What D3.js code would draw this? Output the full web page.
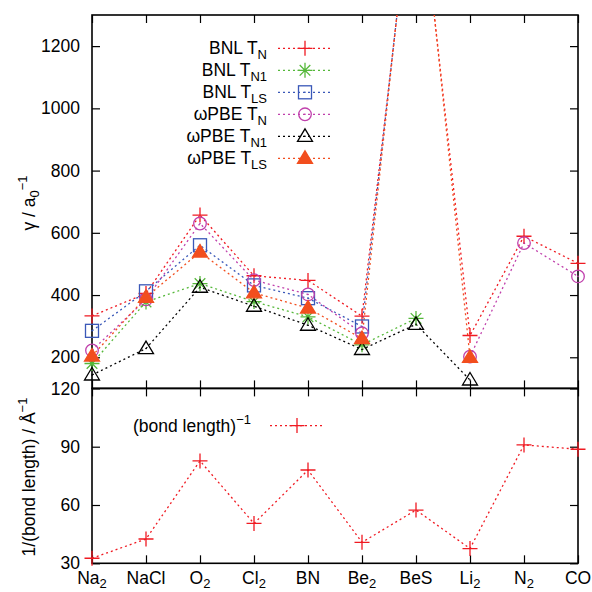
<!DOCTYPE html>
<html>
<head>
<meta charset="utf-8">
<script src="https://cdn.jsdelivr.net/npm/d3@7"></script>
<style>
  html, body { margin: 0; padding: 0; background: #fff; }
  svg text { font-family: "Liberation Sans", Arial, Helvetica, sans-serif; fill: #000; }
</style>
</head>
<body>
<svg id="chart" width="592" height="592"></svg>
<script>
// Molecules along the x axis: [name, subscript]
const categories = ["Na2", "NaCl", "O2", "Cl2", "BN", "Be2", "BeS", "Li2", "N2", "CO"];
const categoryLabels = [["Na", "2"], ["NaCl", ""], ["O", "2"], ["Cl", "2"], ["BN", ""],
                        ["Be", "2"], ["BeS", ""], ["Li", "2"], ["N", "2"], ["CO", ""]];

// Optimal range-separation parameter gamma (1/a0) for each tuning scheme
const bnlTN   = [333, 405, 657, 462, 447, 332, 1825, 270, 589, 502];
const bnlTN1  = [180, 378, 437, 379, 330, 240, 325, null, null, null];
const bnlTLS  = [285, 412, 560, 431, 390, 299, 1845, null, null, null];
const wpbeTN  = [222, 386, 630, 448, 402, 277, null, 202, 567, 460];
const wpbeTN1 = [143, 228, 425, 364, 303, 225, 306, 127, null, null];
const wpbeTLS = [204, 393, 538, 407, 358, 260, 1865, 200, null, null];

// Inverse bond length (x100, 1/Angstrom)
const invBondLength = [32.6, 42.5, 82.7, 50.5, 78.0, 40.8, 57.4, 37.6, 90.9, 88.7];

// Axis ticks
const topTicks = [200, 400, 600, 800, 1000, 1200];
const bottomTicks = [30, 60, 90, 120];

const series = [
  { name: ["BNL T", "N"],    values: bnlTN,   color: "#f01a22", symbol: "plus" },
  { name: ["BNL T", "N1"],   values: bnlTN1,  color: "#55b83a", symbol: "star" },
  { name: ["BNL T", "LS"],   values: bnlTLS,  color: "#3a58b8", symbol: "square" },
  { name: ["ωPBE T", "N"],   values: wpbeTN,  color: "#c040ac", symbol: "circle" },
  { name: ["ωPBE T", "N1"],  values: wpbeTN1, color: "#000000", symbol: "triangle" },
  { name: ["ωPBE T", "LS"],  values: wpbeTLS, color: "#f24e1e", symbol: "triangleFilled" }
];

const svg = d3.select("#chart");
const padL = 92, padR = 578, panelTop = 15, panelMid = 388.4, panelBot = 563.3;
const fontSize = 17.5, subSize = 13;

const x = d3.scalePoint().domain(categories).range([padL, padR]).padding(0);
const yTop = d3.scaleLinear().domain([100, 1300]).range([panelMid, panelTop]);
const yBot = d3.scaleLinear().domain([30, 120]).range([panelBot, panelMid]);

// Point symbols drawn as paths centred on (0,0)
function drawSymbol(g, type, color) {
  const sw = 1.3;
  if (type === "plus") {
    g.append("path").attr("d", "M-7.5,0H7.5M0,-7.5V7.5")
      .attr("stroke", color).attr("stroke-width", sw).attr("fill", "none");
  } else if (type === "star") {
    g.append("path").attr("d", "M-7.5,0H7.5M0,-7.5V7.5M-5.3,-5.3L5.3,5.3M-5.3,5.3L5.3,-5.3")
      .attr("stroke", color).attr("stroke-width", sw).attr("fill", "none");
  } else if (type === "square") {
    g.append("rect").attr("x", -6.5).attr("y", -6.5).attr("width", 13).attr("height", 13)
      .attr("stroke", color).attr("stroke-width", sw).attr("fill", "none");
    g.append("circle").attr("r", 0.8).attr("fill", color);
  } else if (type === "circle") {
    g.append("circle").attr("r", 6.3)
      .attr("stroke", color).attr("stroke-width", sw).attr("fill", "none");
    g.append("circle").attr("r", 0.8).attr("fill", color);
  } else if (type === "triangle") {
    g.append("path").attr("d", "M0,-7.5L7.5,5L-7.5,5Z")
      .attr("stroke", color).attr("stroke-width", sw).attr("fill", "none");
    g.append("circle").attr("r", 0.8).attr("fill", color);
  } else if (type === "triangleFilled") {
    g.append("path").attr("d", "M0,-7.5L7.5,5L-7.5,5Z")
      .attr("stroke", color).attr("stroke-width", sw).attr("fill", color);
  }
}

// Clip for the upper panel (vertical clipping only)
svg.append("defs").append("clipPath").attr("id", "clipTop")
  .append("rect").attr("x", 0).attr("y", panelTop).attr("width", 592).attr("height", panelMid - panelTop);

// ---------- Axes ----------
const tickLen = 8;
const numFmt = d3.format("d");
function styleAxis(g) {
  g.select(".domain").remove();
  g.selectAll(".tick line").attr("stroke", "#000").attr("stroke-width", 1.2);
  g.selectAll(".tick text").attr("font-size", fontSize)
    .attr("font-family", "Liberation Sans, Arial, sans-serif").attr("fill", "#000");
}

// upper panel
svg.append("g").attr("transform", `translate(${padL},0)`)
  .call(d3.axisLeft(yTop).tickValues(topTicks).tickFormat(numFmt)
    .tickSizeInner(-tickLen).tickSizeOuter(0).tickPadding(12))
  .call(styleAxis);
svg.append("g").attr("transform", `translate(${padR},0)`)
  .call(d3.axisRight(yTop).tickValues(topTicks).tickSizeInner(-tickLen).tickSizeOuter(0).tickFormat(""))
  .call(styleAxis);
svg.append("g").attr("transform", `translate(0,${panelTop})`)
  .call(d3.axisTop(x).tickSizeInner(-tickLen).tickSizeOuter(0).tickFormat(""))
  .call(styleAxis);
svg.append("g").attr("transform", `translate(0,${panelMid})`)
  .call(d3.axisBottom(x).tickSizeInner(-tickLen).tickSizeOuter(0).tickFormat(""))
  .call(styleAxis);

// lower panel
svg.append("g").attr("transform", `translate(${padL},0)`)
  .call(d3.axisLeft(yBot).tickValues(bottomTicks).tickFormat(numFmt)
    .tickSizeInner(-tickLen).tickSizeOuter(0).tickPadding(12))
  .call(styleAxis);
svg.append("g").attr("transform", `translate(${padR},0)`)
  .call(d3.axisRight(yBot).tickValues(bottomTicks).tickSizeInner(-tickLen).tickSizeOuter(0).tickFormat(""))
  .call(styleAxis);
svg.append("g").attr("transform", `translate(0,${panelMid})`)
  .call(d3.axisTop(x).tickSizeInner(-tickLen).tickSizeOuter(0).tickFormat(""))
  .call(styleAxis);
svg.append("g").attr("transform", `translate(0,${panelBot})`)
  .call(d3.axisBottom(x).tickSizeInner(-tickLen).tickSizeOuter(0).tickFormat(""))
  .call(styleAxis);

// Frames
[[panelTop, panelMid], [panelMid, panelBot]].forEach(([y0, y1]) => {
  svg.append("rect").attr("x", padL).attr("y", y0).attr("width", padR - padL).attr("height", y1 - y0)
    .attr("fill", "none").attr("stroke", "#000").attr("stroke-width", 1.6);
});

// Category labels with subscripts
const xl = svg.append("g");
categories.forEach((c, i) => {
  const [base, sub] = categoryLabels[i];
  const t = xl.append("text").attr("x", x(c)).attr("y", 584).attr("text-anchor", "middle")
    .attr("font-size", fontSize);
  t.append("tspan").text(base);
  if (sub) t.append("tspan").attr("font-size", subSize).attr("dy", 4).text(sub);
});

// Axis titles
const yt1 = svg.append("text").attr("transform", "translate(35,203) rotate(-90)")
  .attr("text-anchor", "middle").attr("font-size", fontSize);
yt1.append("tspan").text("γ / a");
yt1.append("tspan").attr("font-size", subSize).attr("dy", 4).text("0");
yt1.append("tspan").attr("font-size", subSize).attr("dy", -12).text("−1");

const yt2 = svg.append("text").attr("transform", "translate(35,477) rotate(-90)")
  .attr("text-anchor", "middle").attr("font-size", fontSize);
yt2.append("tspan").text("1/(bond length)  / Å");
yt2.append("tspan").attr("font-size", subSize).attr("dy", -8).text("−1");

// ---------- Upper panel data ----------
const dash = "2,3";
const plotTop = svg.append("g");
const linesTop = plotTop.append("g").attr("clip-path", "url(#clipTop)");
series.forEach(s => {
  const pts = s.values.map((v, i) => ({ c: categories[i], v }));
  const line = d3.line().defined(d => d.v !== null).x(d => x(d.c)).y(d => yTop(d.v));
  linesTop.append("path").datum(pts).attr("d", line)
    .attr("fill", "none").attr("stroke", s.color).attr("stroke-width", 1.3)
    .attr("stroke-dasharray", dash);
  pts.filter(d => d.v !== null && d.v <= 1300).forEach(d => {
    const g = plotTop.append("g").attr("transform", `translate(${x(d.c)},${yTop(d.v)})`);
    drawSymbol(g, s.symbol, s.color);
  });
});

// Legend (upper panel)
series.forEach((s, i) => {
  const yy = 48.3 + i * 22;
  const t = svg.append("text").attr("x", 267).attr("y", yy + 6).attr("text-anchor", "end")
    .attr("font-size", fontSize);
  t.append("tspan").text(s.name[0]);
  t.append("tspan").attr("font-size", subSize).attr("dy", 4.5).text(s.name[1]);
  svg.append("line").attr("x1", 278).attr("x2", 330).attr("y1", yy).attr("y2", yy)
    .attr("stroke", s.color).attr("stroke-width", 1.3).attr("stroke-dasharray", dash);
  const g = svg.append("g").attr("transform", `translate(305,${yy})`);
  drawSymbol(g, s.symbol, s.color);
});

// ---------- Lower panel data ----------
const bondColor = "#f01a22";
const bpts = invBondLength.map((v, i) => ({ c: categories[i], v }));
svg.append("path").datum(bpts)
  .attr("d", d3.line().x(d => x(d.c)).y(d => yBot(d.v)))
  .attr("fill", "none").attr("stroke", bondColor).attr("stroke-width", 1.3)
  .attr("stroke-dasharray", dash);
bpts.forEach(d => {
  const g = svg.append("g").attr("transform", `translate(${x(d.c)},${yBot(d.v)})`);
  drawSymbol(g, "plus", bondColor);
});

// Legend (lower panel)
const by = 425.6;
const bt = svg.append("text").attr("x", 133).attr("y", by + 6).attr("font-size", fontSize);
bt.append("tspan").text("(bond length)");
bt.append("tspan").attr("font-size", subSize).attr("dy", -8).text("−1");
svg.append("line").attr("x1", 270).attr("x2", 322).attr("y1", by).attr("y2", by)
  .attr("stroke", bondColor).attr("stroke-width", 1.3).attr("stroke-dasharray", dash);
drawSymbol(svg.append("g").attr("transform", `translate(297,${by})`), "plus", bondColor);
</script>
</body>
</html>
